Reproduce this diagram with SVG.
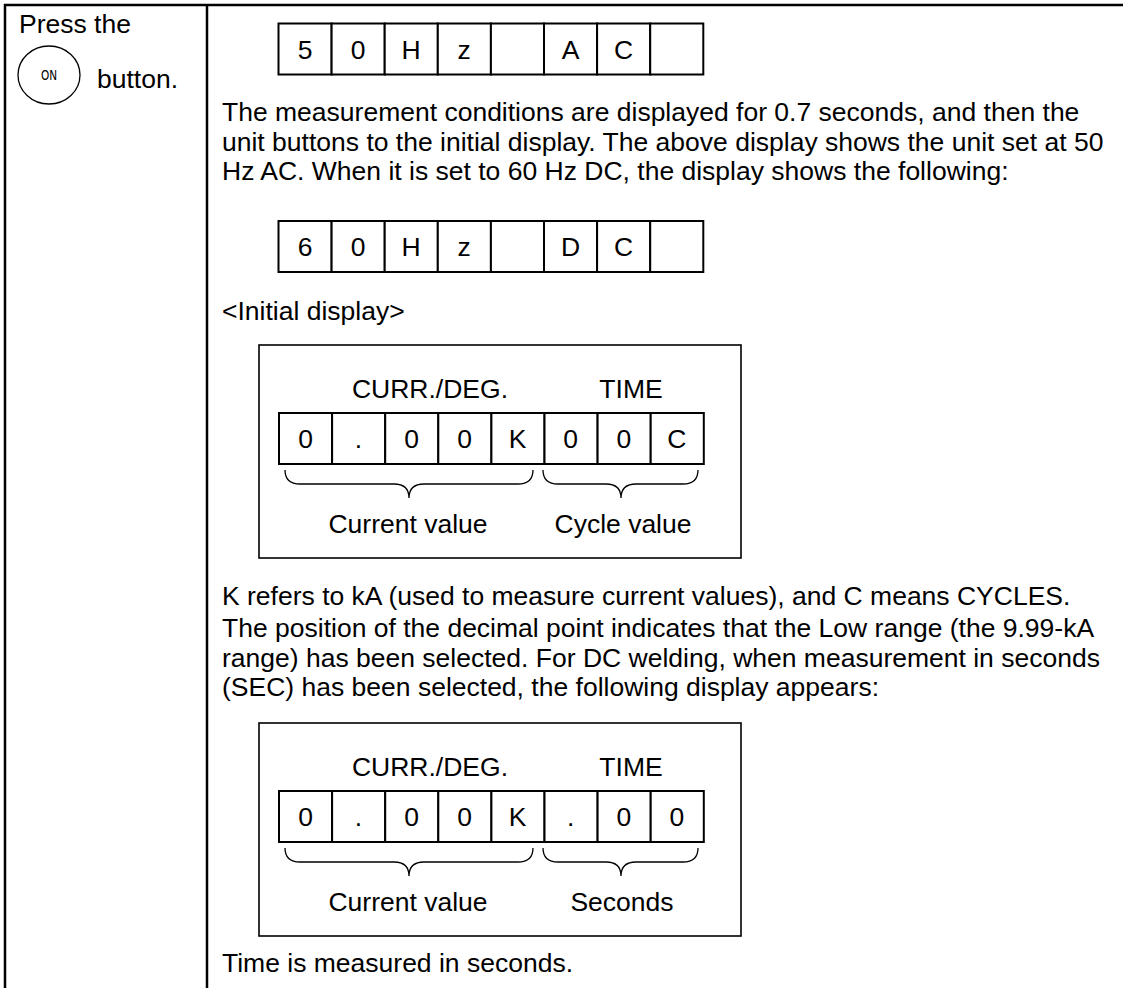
<svg xmlns="http://www.w3.org/2000/svg" width="1123" height="988" viewBox="0 0 1123 988">
<style>
  .t { font-family: "Liberation Sans", Arial, sans-serif; font-size: 26.5px; fill: #000; }
  .c { font-family: "Liberation Sans", Arial, sans-serif; font-size: 26.5px; fill: #000; text-anchor: middle; }
  .frame { stroke: #000; stroke-width: 2.5; fill: none; }
  .cell { stroke: #000; stroke-width: 2; fill: #fff; }
  .box { stroke: #000; stroke-width: 1.6; fill: none; }
  .brace { stroke: #000; stroke-width: 1.3; fill: none; }
</style>
<defs>
  <g id="cells8">
    <rect class="cell" x="0" y="0" width="53.1" height="51"/>
    <rect class="cell" x="53.1" y="0" width="53.1" height="51"/>
    <rect class="cell" x="106.2" y="0" width="53.1" height="51"/>
    <rect class="cell" x="159.3" y="0" width="53.1" height="51"/>
    <rect class="cell" x="212.4" y="0" width="53.1" height="51"/>
    <rect class="cell" x="265.5" y="0" width="53.1" height="51"/>
    <rect class="cell" x="318.6" y="0" width="53.1" height="51"/>
    <rect class="cell" x="371.7" y="0" width="53.1" height="51"/>
  </g>
  <path id="braceL" class="brace" d="M285,470 Q285,484 300,484 L394,484 Q409,484 409,498 Q409,484 424,484 L518,484 Q533,484 533,470"/>
  <path id="braceR" class="brace" d="M543,470 Q543,484 558,484 L606,484 Q621,484 621,498 Q621,484 636,484 L683,484 Q698,484 698,470"/>
</defs>

<g id="frame">
  <line class="frame" x1="4" y1="5" x2="1123" y2="5"/>
  <line class="frame" x1="5" y1="4" x2="5" y2="988"/>
  <line class="frame" x1="207" y1="4" x2="207" y2="988"/>
</g>

<g id="step">
  <text class="t" x="19" y="33">Press the</text>
  <ellipse cx="49" cy="75" rx="31" ry="29" fill="none" stroke="#000" stroke-width="1.3"/>
  <text font-family="DejaVu Sans, sans-serif" font-size="14" text-anchor="middle" transform="translate(49,80) scale(0.75,1)">ON</text>
  <text class="t" x="97" y="88">button.</text>
</g>

<g id="display-50hz">
  <use href="#cells8" x="278.5" y="23.5"/>
  <text class="c" x="305" y="58.5">5</text>
  <text class="c" x="358" y="58.5">0</text>
  <text class="c" x="411" y="58.5">H</text>
  <text class="c" x="464" y="58.5">z</text>
  <text class="c" x="570.5" y="58.5">A</text>
  <text class="c" x="623.5" y="58.5">C</text>
</g>

<g id="para1">
  <text class="t" x="222" y="121">The measurement conditions are displayed for 0.7 seconds, and then the</text>
  <text class="t" x="222" y="150.5">unit buttons to the initial display. The above display shows the unit set at 50</text>
  <text class="t" x="222" y="180">Hz AC. When it is set to 60 Hz DC, the display shows the following:</text>
</g>

<g id="display-60hz">
  <use href="#cells8" x="278.5" y="221"/>
  <text class="c" x="305" y="256">6</text>
  <text class="c" x="358" y="256">0</text>
  <text class="c" x="411" y="256">H</text>
  <text class="c" x="464" y="256">z</text>
  <text class="c" x="570.5" y="256">D</text>
  <text class="c" x="623.5" y="256">C</text>
</g>

<text class="t" x="222" y="320">&lt;Initial display&gt;</text>

<g id="initial-display">
  <rect class="box" x="259" y="345" width="482" height="213"/>
  <text class="c" x="430" y="398">CURR./DEG.</text>
  <text class="c" x="631" y="398">TIME</text>
  <use href="#cells8" x="279" y="413"/>
  <text class="c" x="305.5" y="448">0</text>
  <text class="c" x="358.5" y="448">.</text>
  <text class="c" x="411.6" y="448">0</text>
  <text class="c" x="464.6" y="448">0</text>
  <text class="c" x="517.7" y="448">K</text>
  <text class="c" x="570.7" y="448">0</text>
  <text class="c" x="623.8" y="448">0</text>
  <text class="c" x="676.8" y="448">C</text>
  <use href="#braceL"/>
  <use href="#braceR"/>
  <text class="c" x="408" y="533">Current value</text>
  <text class="c" x="623" y="533">Cycle value</text>
</g>

<g id="para2">
  <text class="t" x="222" y="605">K refers to kA (used to measure current values), and C means CYCLES.</text>
  <text class="t" x="222" y="637">The position of the decimal point indicates that the Low range (the 9.99-kA</text>
  <text class="t" x="222" y="666.5">range) has been selected. For DC welding, when measurement in seconds</text>
  <text class="t" x="222" y="696">(SEC) has been selected, the following display appears:</text>
</g>

<g id="seconds-display" transform="translate(0,378)">
  <rect class="box" x="259" y="345" width="482" height="213"/>
  <text class="c" x="430" y="398">CURR./DEG.</text>
  <text class="c" x="631" y="398">TIME</text>
  <use href="#cells8" x="279" y="413"/>
  <text class="c" x="305.5" y="448">0</text>
  <text class="c" x="358.5" y="448">.</text>
  <text class="c" x="411.6" y="448">0</text>
  <text class="c" x="464.6" y="448">0</text>
  <text class="c" x="517.7" y="448">K</text>
  <text class="c" x="570.7" y="448">.</text>
  <text class="c" x="623.8" y="448">0</text>
  <text class="c" x="676.8" y="448">0</text>
  <use href="#braceL"/>
  <use href="#braceR"/>
  <text class="c" x="408" y="533">Current value</text>
  <text class="c" x="622" y="533">Seconds</text>
</g>

<text class="t" x="222" y="972">Time is measured in seconds.</text>
</svg>
